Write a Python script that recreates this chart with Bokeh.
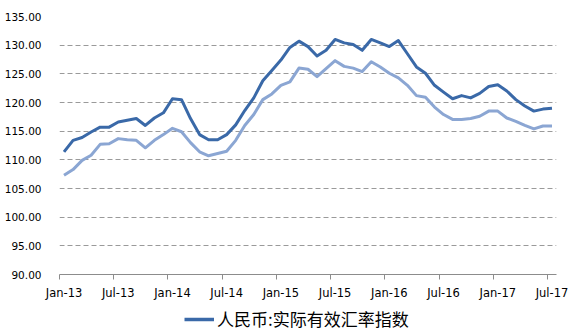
import pandas as pd
from bokeh.plotting import figure
from bokeh.layouts import column
from bokeh.models import (ColumnDataSource, Range1d, FixedTicker, NumeralTickFormatter,
                          Legend, LegendItem)
from bokeh.embed import file_html
from bokeh.resources import INLINE

# ---- data ----
months = [d.strftime("%b-%y") for d in pd.date_range("2013-01-01", "2017-07-01", freq="MS")]

reer = [111.4, 113.4, 113.9, 114.85, 115.7, 115.7, 116.6, 116.9, 117.2, 116.0, 117.3, 118.2,
        120.65, 120.5, 117.2, 114.4, 113.5, 113.5, 114.4, 116.1, 118.6, 120.8, 123.8, 125.6,
        127.4, 129.6, 130.7, 129.75, 128.1, 129.1, 131.0, 130.4, 130.1, 129.1, 131.0, 130.4,
        129.75, 130.8, 128.5, 126.2, 125.1, 123.0, 121.8, 120.65, 121.2, 120.8, 121.6, 122.8,
        123.1, 122.0, 120.5, 119.4, 118.5, 118.85, 119.0]

neer = [107.3, 108.3, 109.9, 110.8, 112.7, 112.8, 113.7, 113.5, 113.4, 112.1, 113.4, 114.4,
        115.5, 114.9, 113.0, 111.4, 110.7, 111.1, 111.5, 113.4, 116.0, 117.9, 120.5, 121.5,
        123.0, 123.6, 126.0, 125.8, 124.5, 125.9, 127.3, 126.3, 126.0, 125.4, 127.1, 126.2,
        125.1, 124.3, 123.0, 121.2, 120.9, 119.2, 117.9, 117.05, 117.05, 117.2, 117.6, 118.5,
        118.5, 117.3, 116.7, 116.0, 115.4, 115.9, 115.9]

tick_labels = ["Jan-13", "Jul-13", "Jan-14", "Jul-14", "Jan-15",
               "Jul-15", "Jan-16", "Jul-16", "Jan-17", "Jul-17"]
series_name = "人民币:实际有效汇率指数"

DARK = "#3A69A8"
LIGHT = "#8BA6D3"

# ---- sources ----
x = [i + 0.5 for i in range(len(months))]  # each month occupies one slot; point at mid-slot
src = ColumnDataSource(dict(x=x, reer=reer, neer=neer, m=months))
tick_pos = [months.index(t) for t in tick_labels]
label_pos = [t + 0.5 for t in tick_pos]

p = figure(width=586, height=302, output_backend="svg", toolbar_location=None,
           x_range=Range1d(0, len(months)), y_range=Range1d(90, 135),
           min_border_left=59, min_border_right=30, min_border_top=16, min_border_bottom=28)
p.outline_line_color = None
p.background_fill_color = "white"
p.border_fill_color = "white"

light = p.line("x", "neer", source=src, line_color=LIGHT, line_width=3, line_join="round")
dark = p.line("x", "reer", source=src, line_color=DARK, line_width=3, line_join="round")

# y axis
p.yaxis.ticker = FixedTicker(ticks=list(range(90, 136, 5)))
p.yaxis.formatter = NumeralTickFormatter(format="0.00")
p.yaxis.axis_line_color = None
p.yaxis.major_tick_line_color = None
p.yaxis.minor_tick_line_color = None
p.yaxis.major_label_standoff = 12
p.yaxis.major_label_text_font = "DejaVu Sans"
p.yaxis.major_label_text_font_size = "10.5px"
p.yaxis.major_label_text_color = "#000000"

# x axis: labels at mid-slot (major), tick marks at slot starts (minor)
p.xaxis.ticker = FixedTicker(ticks=label_pos, minor_ticks=tick_pos)
p.xaxis.major_label_overrides = {lp: t for lp, t in zip(label_pos, tick_labels)}
p.xaxis.axis_line_color = "#8C8C8C"
p.xaxis.major_tick_line_color = None
p.xaxis.major_tick_out = 5
p.xaxis.major_tick_in = 0
p.xaxis.minor_tick_line_color = "#8C8C8C"
p.xaxis.minor_tick_out = 5
p.xaxis.minor_tick_in = 0
p.xaxis.major_label_standoff = 6
p.xaxis.major_label_text_font = "DejaVu Sans"
p.xaxis.major_label_text_font_size = "11.5px"
p.xaxis.major_label_text_color = "#000000"

# grid
p.xgrid.grid_line_color = None
p.ygrid.ticker = FixedTicker(ticks=list(range(95, 136, 5)))
p.ygrid.grid_line_color = "#9A9A9A"
p.ygrid.grid_line_dash = "5 3"
p.ygrid.grid_line_width = 1

# ---- legend strip (its frame is aligned with the chart's frame by the column) ----
lg = figure(width=586, height=34, output_backend="svg", toolbar_location=None,
            x_axis_type=None, y_axis_type=None,
            x_range=Range1d(0, len(months)), y_range=Range1d(0, 1),
            min_border_left=59, min_border_right=30, min_border_top=0, min_border_bottom=0)
lg.outline_line_color = None
lg.xgrid.grid_line_color = None
lg.ygrid.grid_line_color = None
# same series, drawn outside this strip's y-range, only to supply the legend key
key = lg.line("x", "reer", source=src, line_color=DARK, line_width=3.5)
legend = Legend(items=[LegendItem(label=series_name, renderers=[key])],
                location=(125, 5), orientation="horizontal",
                padding=0, margin=0, spacing=0, glyph_width=30, glyph_height=20,
                label_standoff=3, border_line_color=None, background_fill_alpha=0,
                label_text_font="Noto Sans CJK SC", label_text_font_size="17px",
                label_text_color="#000000")
lg.add_layout(legend)

layout = column(p, lg, spacing=0)
open("out.html", "w").write(file_html(layout, INLINE))
